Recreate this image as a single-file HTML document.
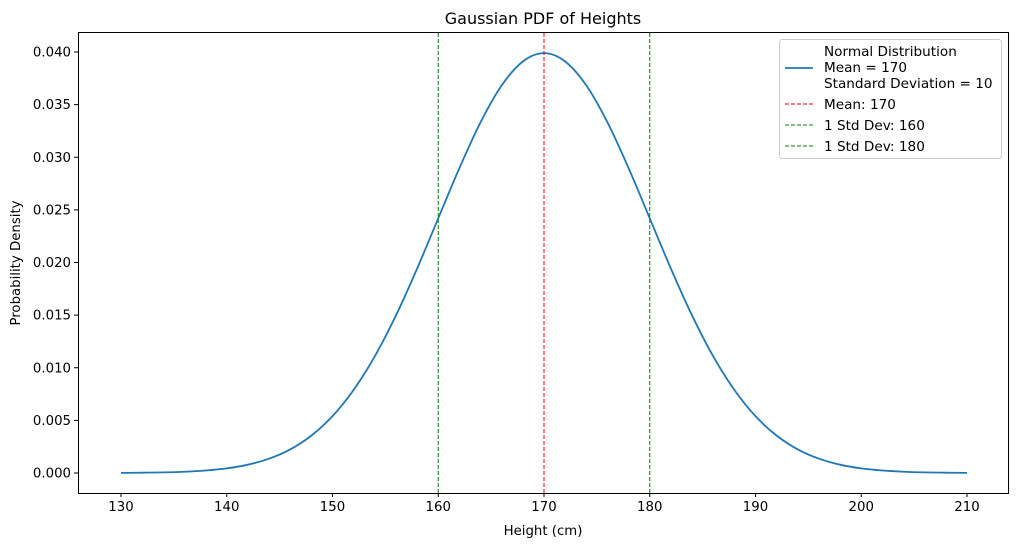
<!DOCTYPE html>
<html><head><meta charset="utf-8"><style>
body{margin:0;background:#fff}
svg{display:block;font-family:"DejaVu Sans","Liberation Sans",sans-serif}
</style></head><body>
<svg id="chart" width="1018" height="547">
<text x="543" y="24" text-anchor="middle" font-size="16">Gaussian PDF of Heights</text>
<text x="543" y="535" text-anchor="middle" font-size="13.3">Height (cm)</text>
<text transform="translate(20,263) rotate(-90)" text-anchor="middle" font-size="13.3">Probability Density</text>
<g id="ticks"></g>
<g id="marks"></g>
<rect x="78.5" y="32.5" width="930" height="461" fill="none" stroke="#000" stroke-width="1"/>
<g>
<rect x="779.5" y="39.5" width="222" height="119" rx="3" fill="#fff" fill-opacity="0.8" stroke="#ccc"/>
<line x1="785" y1="68" x2="813" y2="68" stroke="#1f77b4" stroke-width="1.8"/>
<text x="824" y="56" font-size="13.6">Normal Distribution</text>
<text x="824" y="72" font-size="13.6">Mean = 170</text>
<text x="824" y="88" font-size="13.6">Standard Deviation = 10</text>
<line x1="785" y1="104" x2="813" y2="104" stroke="red" stroke-dasharray="4,2"/>
<text x="824" y="109" font-size="13.6">Mean: 170</text>
<line x1="785" y1="125" x2="813" y2="125" stroke="green" stroke-dasharray="4,2"/>
<text x="824" y="130" font-size="13.6">1 Std Dev: 160</text>
<line x1="785" y1="146" x2="813" y2="146" stroke="green" stroke-dasharray="4,2"/>
<text x="824" y="151" font-size="13.6">1 Std Dev: 180</text>
</g>
</svg>
<script>
const xValues=[130,132,134,136,138,140,142,144,146,148,150,152,154,156,158,160,162,164,166,168,170,172,174,176,178,180,182,184,186,188,190,192,194,196,198,200,202,204,206,208,210];
const densities=[0.00001,0.00003,0.00006,0.00012,0.00024,0.00044,0.00079,0.00136,0.00224,0.00355,0.00540,0.00790,0.01109,0.01497,0.01942,0.02420,0.02897,0.03332,0.03683,0.03910,0.03989,0.03910,0.03683,0.03332,0.02897,0.02420,0.01942,0.01497,0.01109,0.00790,0.00540,0.00355,0.00224,0.00136,0.00079,0.00044,0.00024,0.00012,0.00006,0.00003,0.00001];
const refLines=[{v:170,c:"red",n:"mean-line"},{v:160,c:"green",n:"std-low-line"},{v:180,c:"green",n:"std-high-line"}];
const xTicks=[130,140,150,160,170,180,190,200,210];
const yTicks=[0,0.005,0.010,0.015,0.020,0.025,0.030,0.035,0.040];
const NS="http://www.w3.org/2000/svg";
const X=v=>121+(v-130)*10.575;
const Y=v=>473-v*10525;
const ticks=document.getElementById('ticks'),marks=document.getElementById('marks');
function mk(tag,attrs,parent){const e=document.createElementNS(NS,tag);for(const k in attrs)e.setAttribute(k,attrs[k]);parent.appendChild(e);return e;}
xTicks.forEach(t=>{
 const l=mk('line',{x1:X(t),x2:X(t),y1:493,y2:497,stroke:'#000'},ticks);
 
 
 const s=mk('text',{x:X(t),y:511,'text-anchor':'middle','font-size':13.3},ticks);s.textContent=t;
 
 
});
yTicks.forEach(t=>{
 const l=mk('line',{x1:74,x2:78,y1:Y(t),y2:Y(t),stroke:'#000'},ticks);
 
 
 const s=mk('text',{x:71,y:Y(t)+4.5,'text-anchor':'end','font-size':13.3},ticks);s.textContent=t.toFixed(3);
 
 
});
const pts=xValues.map((x,i)=>[X(x),Y(densities[i])]);
let d='M'+pts[0][0]+','+pts[0][1];
for(let i=0;i<pts.length-1;i++){
 const p0=pts[Math.max(0,i-1)],p1=pts[i],p2=pts[i+1],p3=pts[Math.min(pts.length-1,i+2)];
 d+=' C'+(p1[0]+(p2[0]-p0[0])/6)+','+(p1[1]+(p2[1]-p0[1])/6)+' '+(p2[0]-(p3[0]-p1[0])/6)+','+(p2[1]-(p3[1]-p1[1])/6)+' '+p2[0]+','+p2[1];
}
const path=mk('path',{d:d,fill:'none',stroke:'#1f77b4','stroke-width':1.8},marks);


refLines.forEach(r=>{
 const l=mk('line',{x1:X(r.v),x2:X(r.v),y1:33,y2:493,stroke:r.c,'stroke-dasharray':'4,2'},marks);
 
 
});
</script>
</body></html>
